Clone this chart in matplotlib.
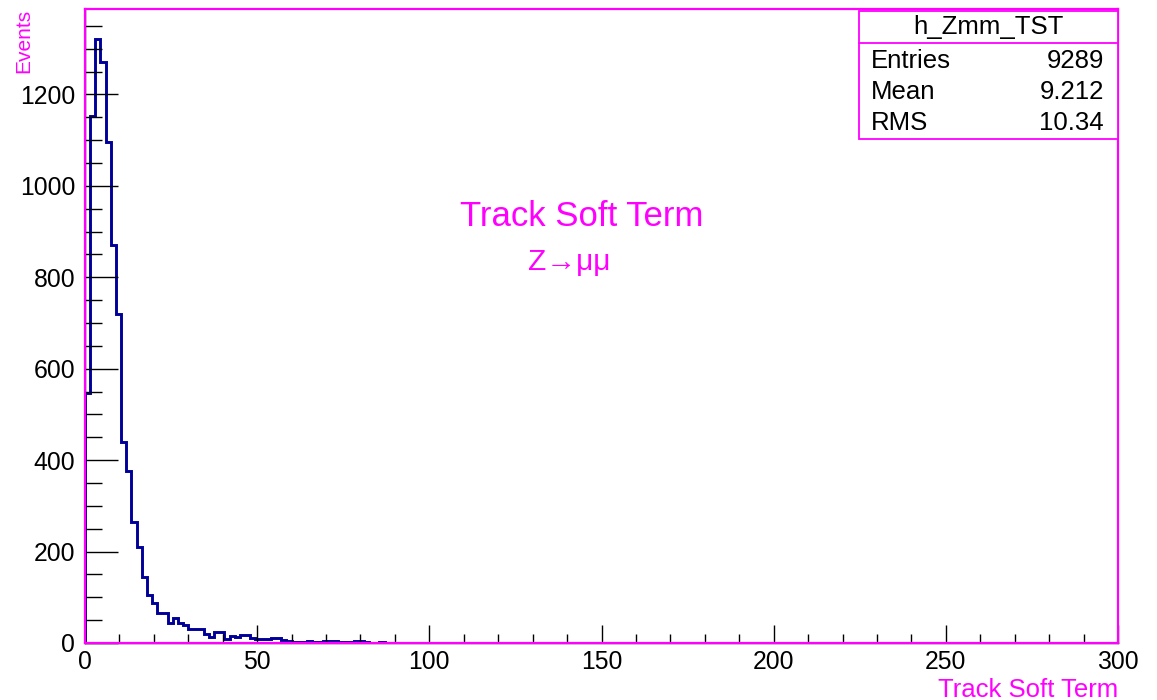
import matplotlib

matplotlib.use("Agg")
import matplotlib.pyplot as plt
import numpy as np
from matplotlib.patches import Rectangle
from matplotlib.lines import Line2D
from matplotlib.ticker import MultipleLocator

plt.rcParams["font.family"] = ["Liberation Sans", "DejaVu Sans"]

W, H = 1157, 700
MAGENTA = "#ff00ff"
NAVY = "#000099"

# h_Zmm_TST: 200 bins of 1.5 over [0, 300], counts for the populated bins
BIN_WIDTH = 1.5
N_BINS = 200
counts_head = [
    548, 1152, 1321, 1272, 1096, 870, 719, 439, 377, 265,
    210, 145, 106, 87, 66, 66, 43, 54, 44, 39,
    30, 30, 30, 20, 14, 25, 24, 8, 15, 14,
    17, 17, 11, 9, 9, 9, 11, 11, 7, 4,
    3, 2, 3, 4, 2, 3, 4, 4, 4, 3,
    2, 2, 5, 4, 2, 1, 1, 2, 1, 0,
    1, 1, 0, 1,
]
counts = np.array(counts_head + [0] * (N_BINS - len(counts_head)), dtype=float)
edges = np.arange(N_BINS + 1) * BIN_WIDTH

stats_title = "h_Zmm_TST"
stats_names = ["Entries", "Mean", "RMS"]
stats_values = ["9289", "9.212", "10.34"]


def fx(px):
    return px / W


def fy(py):
    return 1 - py / H


fig = plt.figure(figsize=(W / 100, H / 100), dpi=100)
ax = fig.add_axes([fx(85), fy(643), fx(1118) - fx(85), fy(9) - fy(643)])

ax.stairs(counts, edges, color=NAVY, linewidth=2.1, baseline=0)

ax.set_xlim(0, 300)
ax.set_ylim(0, 1.05 * counts.max())

ax.xaxis.set_major_locator(MultipleLocator(50))
ax.xaxis.set_minor_locator(MultipleLocator(10))
ax.yaxis.set_major_locator(MultipleLocator(200))
ax.yaxis.set_minor_locator(MultipleLocator(50))

ax.tick_params(axis="both", which="both", direction="in", color="black",
               width=1.0, labelsize=17.8, top=False, right=False)
ax.tick_params(axis="y", which="major", length=23.5, pad=7)
ax.tick_params(axis="y", which="minor", length=12)
ax.tick_params(axis="x", which="major", length=13, pad=5)
ax.tick_params(axis="x", which="minor", length=6.5)

# magenta frame with black axis lines along left and bottom
for side in ["top", "right", "left", "bottom"]:
    ax.spines[side].set_color(MAGENTA)
    ax.spines[side].set_linewidth(1.6)
ax.add_artist(Line2D([0, 0], [0, 1], transform=ax.transAxes, color="black",
                     linewidth=1.0, clip_on=False))
ax.add_artist(Line2D([0, 1], [0, 0], transform=ax.transAxes, color="black",
                     linewidth=1.0, clip_on=False))

# axis titles, ROOT style: y at top-left, x at bottom-right
fig.text(fx(24), fy(9), "Events", rotation=90, ha="center", va="top",
         color=MAGENTA, fontsize=15)
fig.text(fx(1118), fy(697), "Track Soft Term", ha="right", va="baseline",
         color=MAGENTA, fontsize=18.5)

# in-plot labels
fig.text(fx(460), fy(226), "Track Soft Term", ha="left", va="baseline",
         color=MAGENTA, fontsize=25)
fig.text(fx(528), fy(270), "Z→μμ", ha="left", va="baseline",
         color=MAGENTA, fontsize=21.5)

# statistics box
box_l, box_r, box_t, box_b, box_div = 859, 1118, 11, 139, 43
fig.add_artist(Rectangle((fx(box_l), fy(box_b)), fx(box_r) - fx(box_l),
                         fy(box_t) - fy(box_b), transform=fig.transFigure,
                         facecolor="white", edgecolor=MAGENTA, linewidth=1.3))
fig.add_artist(Line2D([fx(box_l), fx(box_r)], [fy(box_div), fy(box_div)],
                      transform=fig.transFigure, color=MAGENTA, linewidth=1.3))
fig.text(fx((box_l + box_r) / 2), fy(27), stats_title, ha="center", va="center",
         fontsize=18.5)
for i, (name, value) in enumerate(zip(stats_names, stats_values)):
    y = fy(61 + 31 * i)
    fig.text(fx(871), y, name, ha="left", va="center", fontsize=18.5)
    fig.text(fx(1104), y, value, ha="right", va="center", fontsize=18.5)

fig.savefig("out.png", dpi=100)
